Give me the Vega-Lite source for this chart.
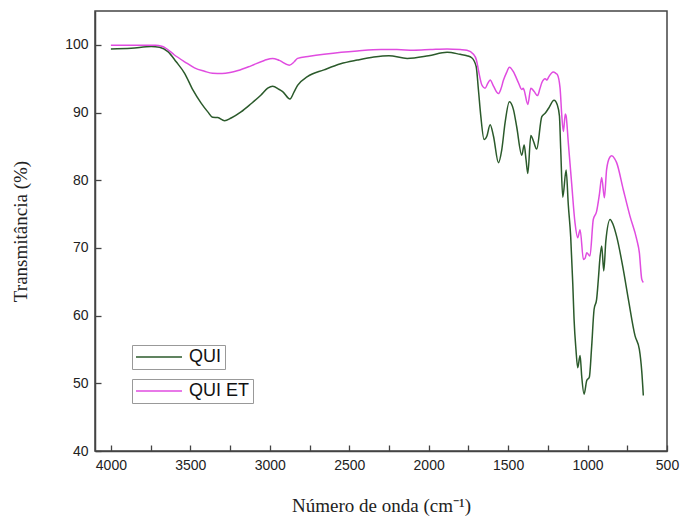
{
  "$schema": "https://vega.github.io/schema/vega-lite/v6.json",
  "width": 572,
  "height": 440,
  "autosize": "none",
  "padding": {"left": 95, "top": 11, "right": 16, "bottom": 68},
  "background": "white",
  "config": {
    "view": {"stroke": "#444", "strokeWidth": 1.5},
    "axis": {"grid": false, "zindex": 2, "domainColor": "#444", "domainWidth": 1.5, "tickColor": "#444", "tickWidth": 1.3, "labelFont": "Liberation Sans", "labelFontSize": 14, "labelColor": "#222", "titleFont": "Liberation Serif", "titleFontSize": 19, "titleFontWeight": "normal", "titleColor": "#222"}
  },
  "datasets": {
    "qui": [
      {"wn": 4000, "t": 99.4, "serie": "QUI"},
      {"wn": 3872, "t": 99.5, "serie": "QUI"},
      {"wn": 3746, "t": 99.75, "serie": "QUI"},
      {"wn": 3694, "t": 99.65, "serie": "QUI"},
      {"wn": 3641, "t": 99.0, "serie": "QUI"},
      {"wn": 3589, "t": 97.5, "serie": "QUI"},
      {"wn": 3536, "t": 95.8, "serie": "QUI"},
      {"wn": 3484, "t": 93.35, "serie": "QUI"},
      {"wn": 3432, "t": 91.4, "serie": "QUI"},
      {"wn": 3390, "t": 90.1, "serie": "QUI"},
      {"wn": 3359, "t": 89.3, "serie": "QUI"},
      {"wn": 3327, "t": 89.25, "serie": "QUI"},
      {"wn": 3285, "t": 88.8, "serie": "QUI"},
      {"wn": 3243, "t": 89.2, "serie": "QUI"},
      {"wn": 3181, "t": 90.1, "serie": "QUI"},
      {"wn": 3118, "t": 91.3, "serie": "QUI"},
      {"wn": 3055, "t": 92.6, "serie": "QUI"},
      {"wn": 3013, "t": 93.6, "serie": "QUI"},
      {"wn": 2982, "t": 93.9, "serie": "QUI"},
      {"wn": 2940, "t": 93.4, "serie": "QUI"},
      {"wn": 2919, "t": 93.1, "serie": "QUI"},
      {"wn": 2873, "t": 92.0, "serie": "QUI"},
      {"wn": 2846, "t": 93.1, "serie": "QUI"},
      {"wn": 2825, "t": 94.0, "serie": "QUI"},
      {"wn": 2763, "t": 95.3, "serie": "QUI"},
      {"wn": 2659, "t": 96.3, "serie": "QUI"},
      {"wn": 2554, "t": 97.2, "serie": "QUI"},
      {"wn": 2449, "t": 97.75, "serie": "QUI"},
      {"wn": 2345, "t": 98.2, "serie": "QUI"},
      {"wn": 2250, "t": 98.4, "serie": "QUI"},
      {"wn": 2135, "t": 98.0, "serie": "QUI"},
      {"wn": 2000, "t": 98.4, "serie": "QUI"},
      {"wn": 1884, "t": 98.9, "serie": "QUI"},
      {"wn": 1802, "t": 98.6, "serie": "QUI"},
      {"wn": 1759, "t": 98.4, "serie": "QUI"},
      {"wn": 1729, "t": 98.1, "serie": "QUI"},
      {"wn": 1701, "t": 96.8, "serie": "QUI"},
      {"wn": 1687, "t": 93.4, "serie": "QUI"},
      {"wn": 1672, "t": 89.5, "serie": "QUI"},
      {"wn": 1651, "t": 86.0, "serie": "QUI"},
      {"wn": 1634, "t": 86.5, "serie": "QUI"},
      {"wn": 1613, "t": 88.2, "serie": "QUI"},
      {"wn": 1592, "t": 86.5, "serie": "QUI"},
      {"wn": 1561, "t": 82.6, "serie": "QUI"},
      {"wn": 1540, "t": 84.5, "serie": "QUI"},
      {"wn": 1519, "t": 88.5, "serie": "QUI"},
      {"wn": 1492, "t": 91.6, "serie": "QUI"},
      {"wn": 1466, "t": 90.4, "serie": "QUI"},
      {"wn": 1446, "t": 87.9, "serie": "QUI"},
      {"wn": 1414, "t": 83.7, "serie": "QUI"},
      {"wn": 1399, "t": 85.2, "serie": "QUI"},
      {"wn": 1387, "t": 83.0, "serie": "QUI"},
      {"wn": 1376, "t": 81.0, "serie": "QUI"},
      {"wn": 1357, "t": 86.6, "serie": "QUI"},
      {"wn": 1341, "t": 85.8, "serie": "QUI"},
      {"wn": 1320, "t": 84.6, "serie": "QUI"},
      {"wn": 1288, "t": 89.4, "serie": "QUI"},
      {"wn": 1267, "t": 89.9, "serie": "QUI"},
      {"wn": 1246, "t": 90.6, "serie": "QUI"},
      {"wn": 1211, "t": 91.8, "serie": "QUI"},
      {"wn": 1190, "t": 91.1, "serie": "QUI"},
      {"wn": 1177, "t": 89.5, "serie": "QUI"},
      {"wn": 1169, "t": 84.6, "serie": "QUI"},
      {"wn": 1156, "t": 77.5, "serie": "QUI"},
      {"wn": 1135, "t": 81.5, "serie": "QUI"},
      {"wn": 1121, "t": 76.3, "serie": "QUI"},
      {"wn": 1106, "t": 71.6, "serie": "QUI"},
      {"wn": 1093, "t": 64.7, "serie": "QUI"},
      {"wn": 1085, "t": 59.5, "serie": "QUI"},
      {"wn": 1073, "t": 55.0, "serie": "QUI"},
      {"wn": 1062, "t": 52.3, "serie": "QUI"},
      {"wn": 1047, "t": 54.1, "serie": "QUI"},
      {"wn": 1037, "t": 51.1, "serie": "QUI"},
      {"wn": 1022, "t": 48.4, "serie": "QUI"},
      {"wn": 1005, "t": 50.4, "serie": "QUI"},
      {"wn": 989, "t": 50.9, "serie": "QUI"},
      {"wn": 974, "t": 55.5, "serie": "QUI"},
      {"wn": 959, "t": 60.9, "serie": "QUI"},
      {"wn": 943, "t": 62.4, "serie": "QUI"},
      {"wn": 932, "t": 65.4, "serie": "QUI"},
      {"wn": 922, "t": 68.5, "serie": "QUI"},
      {"wn": 911, "t": 70.3, "serie": "QUI"},
      {"wn": 898, "t": 66.6, "serie": "QUI"},
      {"wn": 885, "t": 71.0, "serie": "QUI"},
      {"wn": 858, "t": 74.2, "serie": "QUI"},
      {"wn": 840, "t": 73.5, "serie": "QUI"},
      {"wn": 817, "t": 71.7, "serie": "QUI"},
      {"wn": 775, "t": 66.8, "serie": "QUI"},
      {"wn": 743, "t": 62.4, "serie": "QUI"},
      {"wn": 701, "t": 57.0, "serie": "QUI"},
      {"wn": 674, "t": 55.0, "serie": "QUI"},
      {"wn": 659, "t": 51.8, "serie": "QUI"},
      {"wn": 649, "t": 48.2, "serie": "QUI"}
    ],
    "quiet": [
      {"wn": 4000, "t": 99.95, "serie": "QUI ET"},
      {"wn": 3850, "t": 99.95, "serie": "QUI ET"},
      {"wn": 3720, "t": 99.95, "serie": "QUI ET"},
      {"wn": 3680, "t": 99.8, "serie": "QUI ET"},
      {"wn": 3660, "t": 99.6, "serie": "QUI ET"},
      {"wn": 3600, "t": 98.5, "serie": "QUI ET"},
      {"wn": 3536, "t": 97.5, "serie": "QUI ET"},
      {"wn": 3474, "t": 96.6, "serie": "QUI ET"},
      {"wn": 3411, "t": 96.1, "serie": "QUI ET"},
      {"wn": 3360, "t": 95.8, "serie": "QUI ET"},
      {"wn": 3300, "t": 95.75, "serie": "QUI ET"},
      {"wn": 3250, "t": 95.9, "serie": "QUI ET"},
      {"wn": 3200, "t": 96.2, "serie": "QUI ET"},
      {"wn": 3118, "t": 96.9, "serie": "QUI ET"},
      {"wn": 3034, "t": 97.7, "serie": "QUI ET"},
      {"wn": 2982, "t": 98.0, "serie": "QUI ET"},
      {"wn": 2940, "t": 97.7, "serie": "QUI ET"},
      {"wn": 2877, "t": 97.0, "serie": "QUI ET"},
      {"wn": 2846, "t": 97.5, "serie": "QUI ET"},
      {"wn": 2825, "t": 98.0, "serie": "QUI ET"},
      {"wn": 2750, "t": 98.3, "serie": "QUI ET"},
      {"wn": 2659, "t": 98.6, "serie": "QUI ET"},
      {"wn": 2550, "t": 98.9, "serie": "QUI ET"},
      {"wn": 2449, "t": 99.1, "serie": "QUI ET"},
      {"wn": 2300, "t": 99.3, "serie": "QUI ET"},
      {"wn": 2200, "t": 99.3, "serie": "QUI ET"},
      {"wn": 2094, "t": 99.2, "serie": "QUI ET"},
      {"wn": 1990, "t": 99.3, "serie": "QUI ET"},
      {"wn": 1884, "t": 99.4, "serie": "QUI ET"},
      {"wn": 1802, "t": 99.3, "serie": "QUI ET"},
      {"wn": 1759, "t": 99.2, "serie": "QUI ET"},
      {"wn": 1718, "t": 98.6, "serie": "QUI ET"},
      {"wn": 1700, "t": 97.8, "serie": "QUI ET"},
      {"wn": 1687, "t": 96.3, "serie": "QUI ET"},
      {"wn": 1676, "t": 95.0, "serie": "QUI ET"},
      {"wn": 1666, "t": 94.1, "serie": "QUI ET"},
      {"wn": 1645, "t": 93.6, "serie": "QUI ET"},
      {"wn": 1628, "t": 94.3, "serie": "QUI ET"},
      {"wn": 1613, "t": 94.8, "serie": "QUI ET"},
      {"wn": 1592, "t": 93.9, "serie": "QUI ET"},
      {"wn": 1561, "t": 92.8, "serie": "QUI ET"},
      {"wn": 1545, "t": 93.5, "serie": "QUI ET"},
      {"wn": 1529, "t": 94.8, "serie": "QUI ET"},
      {"wn": 1510, "t": 95.9, "serie": "QUI ET"},
      {"wn": 1492, "t": 96.7, "serie": "QUI ET"},
      {"wn": 1466, "t": 96.0, "serie": "QUI ET"},
      {"wn": 1450, "t": 95.2, "serie": "QUI ET"},
      {"wn": 1435, "t": 94.4, "serie": "QUI ET"},
      {"wn": 1414, "t": 93.4, "serie": "QUI ET"},
      {"wn": 1405, "t": 93.6, "serie": "QUI ET"},
      {"wn": 1399, "t": 93.3, "serie": "QUI ET"},
      {"wn": 1376, "t": 91.2, "serie": "QUI ET"},
      {"wn": 1357, "t": 93.6, "serie": "QUI ET"},
      {"wn": 1336, "t": 93.1, "serie": "QUI ET"},
      {"wn": 1315, "t": 92.5, "serie": "QUI ET"},
      {"wn": 1300, "t": 93.5, "serie": "QUI ET"},
      {"wn": 1288, "t": 94.4, "serie": "QUI ET"},
      {"wn": 1267, "t": 95.0, "serie": "QUI ET"},
      {"wn": 1255, "t": 94.8, "serie": "QUI ET"},
      {"wn": 1246, "t": 95.2, "serie": "QUI ET"},
      {"wn": 1215, "t": 96.0, "serie": "QUI ET"},
      {"wn": 1200, "t": 95.8, "serie": "QUI ET"},
      {"wn": 1190, "t": 95.6, "serie": "QUI ET"},
      {"wn": 1173, "t": 93.6, "serie": "QUI ET"},
      {"wn": 1162, "t": 89.5, "serie": "QUI ET"},
      {"wn": 1152, "t": 87.2, "serie": "QUI ET"},
      {"wn": 1140, "t": 89.8, "serie": "QUI ET"},
      {"wn": 1135, "t": 89.5, "serie": "QUI ET"},
      {"wn": 1121, "t": 85.5, "serie": "QUI ET"},
      {"wn": 1100, "t": 79.5, "serie": "QUI ET"},
      {"wn": 1079, "t": 73.7, "serie": "QUI ET"},
      {"wn": 1062, "t": 71.5, "serie": "QUI ET"},
      {"wn": 1047, "t": 72.7, "serie": "QUI ET"},
      {"wn": 1026, "t": 68.3, "serie": "QUI ET"},
      {"wn": 1015, "t": 68.5, "serie": "QUI ET"},
      {"wn": 1005, "t": 69.3, "serie": "QUI ET"},
      {"wn": 985, "t": 68.8, "serie": "QUI ET"},
      {"wn": 964, "t": 74.2, "serie": "QUI ET"},
      {"wn": 943, "t": 75.4, "serie": "QUI ET"},
      {"wn": 925, "t": 78.0, "serie": "QUI ET"},
      {"wn": 911, "t": 80.4, "serie": "QUI ET"},
      {"wn": 894, "t": 77.4, "serie": "QUI ET"},
      {"wn": 880, "t": 81.6, "serie": "QUI ET"},
      {"wn": 860, "t": 83.4, "serie": "QUI ET"},
      {"wn": 848, "t": 83.6, "serie": "QUI ET"},
      {"wn": 830, "t": 83.2, "serie": "QUI ET"},
      {"wn": 817, "t": 82.6, "serie": "QUI ET"},
      {"wn": 775, "t": 78.6, "serie": "QUI ET"},
      {"wn": 733, "t": 74.7, "serie": "QUI ET"},
      {"wn": 691, "t": 71.3, "serie": "QUI ET"},
      {"wn": 674, "t": 69.3, "serie": "QUI ET"},
      {"wn": 659, "t": 65.4, "serie": "QUI ET"},
      {"wn": 649, "t": 64.9, "serie": "QUI ET"}
    ]
  },
  "layer": [
    {
      "data": {"name": "qui"},
      "mark": {"type": "line", "strokeWidth": 1.5, "interpolate": "monotone"},
      "encoding": {
        "x": {"field": "wn", "type": "quantitative", "sort": null,
          "scale": {"domain": [500, 4100], "reverse": true, "nice": false, "zero": false},
          "axis": {"values": [4000, 3750, 3500, 3250, 3000, 2750, 2500, 2250, 2000, 1750, 1500, 1250, 1000, 750, 500],
            "labelExpr": "datum.value % 500 === 0 ? format(datum.value, 'd') : ''",
            "tickSize": -6, "labelPadding": 13, "labelFlush": false, "labelOverlap": false,
            "title": "Número de onda (cm⁻¹)", "titlePadding": 24}},
        "y": {"field": "t", "type": "quantitative",
          "scale": {"domain": [40, 105], "nice": false, "zero": false},
          "axis": {"values": [40, 45, 50, 55, 60, 65, 70, 75, 80, 85, 90, 95, 100],
            "labelExpr": "datum.value % 10 === 0 ? format(datum.value, 'd') : ''",
            "tickSize": -6, "labelPadding": 13, "labelFlush": false, "labelOverlap": false,
            "title": "Transmitância (%)", "titlePadding": 34}},
        "color": {"field": "serie", "type": "nominal",
          "scale": {"domain": ["QUI"], "range": ["#2b5a2b"]},
          "legend": {"title": null, "orient": "none", "legendX": 37, "legendY": 334, "padding": 3, "clipHeight": 18, "strokeColor": "#999", "fillColor": "white", "symbolType": "stroke", "symbolSize": 2116, "symbolStrokeWidth": 1.5, "labelFont": "Liberation Sans", "labelFontSize": 18, "labelColor": "#111", "labelOffset": 6}}
      }
    },
    {
      "data": {"name": "quiet"},
      "mark": {"type": "line", "strokeWidth": 1.5, "interpolate": "monotone"},
      "encoding": {
        "x": {"field": "wn", "type": "quantitative", "sort": null},
        "y": {"field": "t", "type": "quantitative"},
        "color": {"field": "serie", "type": "nominal",
          "scale": {"domain": ["QUI ET"], "range": ["#e04ce0"]},
          "legend": {"title": null, "orient": "none", "legendX": 37, "legendY": 368, "padding": 3, "clipHeight": 18, "strokeColor": "#999", "fillColor": "white", "symbolType": "stroke", "symbolSize": 2116, "symbolStrokeWidth": 1.5, "labelFont": "Liberation Sans", "labelFontSize": 18, "labelColor": "#111", "labelOffset": 6}}
      }
    }
  ],
  "resolve": {"scale": {"color": "independent"}, "legend": {"color": "independent"}}
}
